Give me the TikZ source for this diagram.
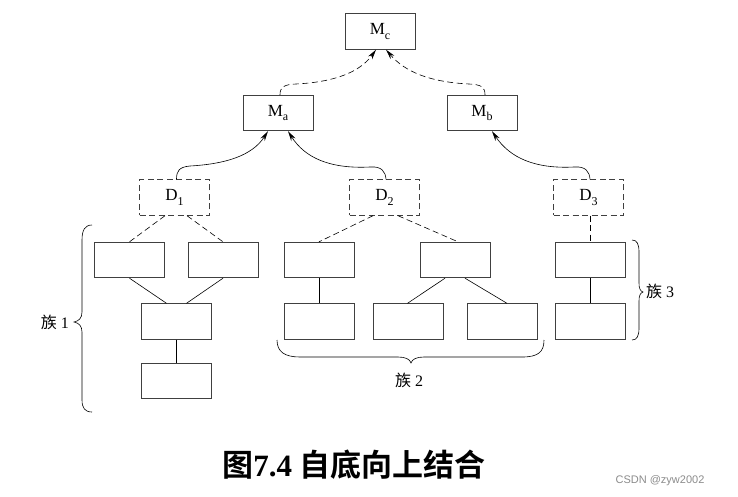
\documentclass[tikz,border=0pt]{standalone}
\usepackage{fontspec}
\setmainfont{Liberation Serif}
\newfontfamily\cjk{Noto Sans CJK SC}
\newfontfamily\cjkb{Noto Sans CJK SC Bold}
\newfontfamily\wm{Liberation Sans}
\usetikzlibrary{arrows.meta}
\newcommand{\lab}[2]{#1\raisebox{-0.28em}{\fontsize{12}{12}\selectfont #2}}
\begin{document}
\begin{tikzpicture}[x=1pt,y=-1pt,
  boxm/.style={draw=black!75,line width=0.9pt,minimum width=70pt,minimum height=35.5pt,inner sep=0pt,font=\fontsize{17}{17}\selectfont},
  boxd/.style={boxm,dash pattern=on 6pt off 3.5pt},
  conn/.style={line width=0.6pt},
  dconn/.style={line width=0.6pt,dash pattern=on 6pt off 3.5pt},
  arr/.style={-{Stealth[length=10pt,width=5pt]}},
  brc/.style={line width=0.6pt},
  flab/.style={font=\fontsize{16}{16}\selectfont,inner sep=0pt}]
\useasboundingbox (0,0) rectangle (738,496);
\fill[white] (0,0) rectangle (738,496);
% top level
\node[boxm] (Mc) at (380,31.5) {\lab{M}{c}};
\node[boxm] (Ma) at (278,113) {\lab{M}{a}};
\node[boxm] (Mb) at (482,113) {\lab{M}{b}};
% D nodes
\node[boxd] (D1) at (174.5,197.5) {\lab{D}{1}};
\node[boxd] (D2) at (384.5,197.5) {\lab{D}{2}};
\node[boxd] (D3) at (588.5,197.5) {\lab{D}{3}};
% row 1
\node[boxm] (A) at (129.5,260) {};
\node[boxm] (B) at (223,260) {};
\node[boxm] (C) at (319,260) {};
\node[boxm] (E) at (455,260) {};
\node[boxm] (F) at (590,260) {};
% row 2
\node[boxm] (G) at (176.5,321.5) {};
\node[boxm] (H) at (319.5,321.5) {};
\node[boxm] (I) at (408.5,321.5) {};
\node[boxm] (J) at (502.5,321.5) {};
\node[boxm] (K) at (590,321.5) {};
% row 3
\node[boxm] (L) at (176.5,381) {};
% dashed links D -> row 1
\draw[dconn] ([xshift=-9.5pt]D1.south) -- (A.north);
\draw[dconn] ([xshift=12.5pt]D1.south) -- (B.north);
\draw[dconn] ([xshift=-11.5pt]D2.south) -- (C.north);
\draw[dconn] ([xshift=13.5pt]D2.south) -- ([xshift=3pt]E.north);
\draw[dconn] ([xshift=1.5pt]D3.south) -- (F.north);
% solid links
\draw[conn] (A.south) -- ([xshift=-10pt]G.north);
\draw[conn] (B.south) -- ([xshift=10pt]G.north);
\draw[conn] (G.south) -- (L.north);
\draw[conn] (C.south) -- ([xshift=-0.5pt]H.north);
\draw[conn] ([xshift=-10pt]E.south) -- ([xshift=-1pt]I.north);
\draw[conn] ([xshift=10pt]E.south) -- ([xshift=4.5pt]J.north);
\draw[conn] (F.south) -- (K.north);
% curved arrows D -> M
\draw[conn,arr] ([xshift=2pt]D1.north) .. controls (176.5,171) and (179,167) .. (190,166)
  .. controls (225,164) and (252,156) .. ([xshift=-10pt]Ma.south);
\draw[conn,arr] ([xshift=1.5pt]D2.north) .. controls (385.5,172) and (382,166) .. (370,167)
  .. controls (330,169) and (305,158) .. ([xshift=10pt]Ma.south);
\draw[conn,arr] ([xshift=1.5pt]D3.north) .. controls (589.5,172) and (586,166) .. (574,167)
  .. controls (535,169) and (510,158) .. ([xshift=10pt]Mb.south);
% dashed curved arrows Ma, Mb -> Mc
\draw[dconn,arr] ([xshift=2pt]Ma.north) .. controls (280,87) and (284,84.5) .. (296,84)
  .. controls (335,82) and (360,72) .. ([xshift=-4pt]Mc.south);
\draw[dconn,arr] ([xshift=3pt]Mb.north) .. controls (485,87) and (481,84.5) .. (469,84)
  .. controls (430,82) and (405,72) .. ([xshift=6pt]Mc.south);
% brace family 1
\coordinate (b1t) at (92,225);
\coordinate (b1b) at (92,412);
\draw[brc] (b1t) .. controls (85,225) and (82,230) .. (82,240) -- (82,312)
  .. controls (82,318) and (79,321) .. (74,322) coordinate (b1tip)
  .. controls (79,323) and (82,326) .. (82,332) -- (82,400)
  .. controls (82,408) and (85,412) .. (b1b);
\node[flab,anchor=east] (f1) at (69,322) {{\cjk 族} 1};
% brace family 2
\coordinate (b2l) at (277,340);
\coordinate (b2r) at (544,340);
\draw[brc] (b2l) .. controls (277,352) and (285,357) .. (300,357) -- (398,357)
  .. controls (405,357) and (410,359) .. (411,363) coordinate (b2tip)
  .. controls (412,359) and (417,357) .. (424,357) -- (522,357)
  .. controls (538,357) and (544,352) .. (b2r);
\node[flab] (f2) at (409,380) {{\cjk 族} 2};
% brace family 3
\coordinate (b3t) at (632,240);
\coordinate (b3b) at (632,340);
\draw[brc] (b3t) .. controls (637,240) and (639,244) .. (639,252) -- (639,283)
  .. controls (639,288) and (640,291) .. (643,292) coordinate (b3tip)
  .. controls (640,293) and (639,296) .. (639,301) -- (639,328)
  .. controls (639,336) and (637,340) .. (b3b);
\node[flab,anchor=west] (f3) at (646,291) {{\cjk 族} 3};
% caption
\node[inner sep=0pt,font=\fontsize{31}{31}\selectfont] (cap) at (354,465) {{\cjkb 图}\textbf{7.4} {\cjkb 自底向上结合}};
\node[inner sep=0pt,font=\fontsize{11}{11}\selectfont\wm,text=black!45] (wmk) at (660,481) {CSDN @zyw2002};
\end{tikzpicture}
\end{document}
